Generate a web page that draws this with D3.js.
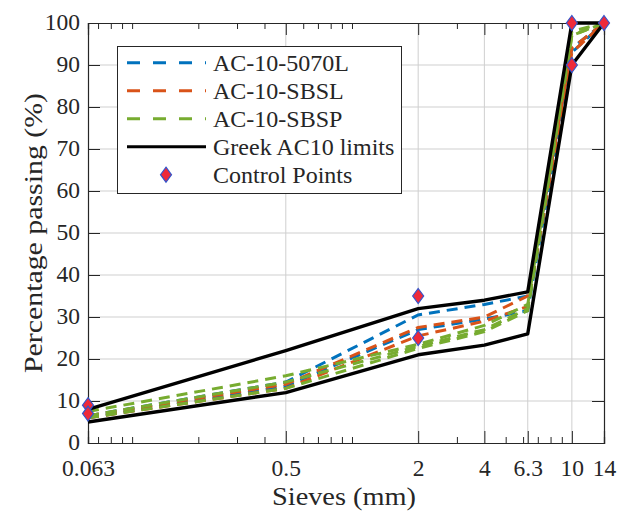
<!DOCTYPE html>
<html>
<head>
<meta charset="utf-8">
<script src="https://cdn.jsdelivr.net/npm/d3@7"></script>
<style>
  body { margin: 0; background: #fff; }
  text { font-family: "Liberation Serif", "DejaVu Serif", serif; fill: #262626; }
</style>
</head>
<body>
<svg id="chart" width="630" height="515"></svg>
<script>
// sieve sizes (mm)
const sieves = [0.063, 0.5, 2, 4, 6.3, 10, 14];
const xTicks = [0.063, 0.5, 2, 4, 6.3, 10, 14];
const xMinor = [0.07, 0.08, 0.09, 0.1, 0.2, 0.3, 0.4, 0.6, 0.7, 0.8, 0.9, 1, 3, 5, 6, 7, 8, 9];
const yTicks = [0, 10, 20, 30, 40, 50, 60, 70, 80, 90, 100];

// gradation curves, % passing at each sieve
const ac5070L = [
  [6.5, 14.5, 30.5, 33, 35, 94, 100],
  [6, 13.5, 27, 29.5, 31.5, 93, 100]
];
const acSBSL = [
  [6, 13, 25.5, 29, 32.5, 93, 100],
  [6.5, 14, 27.5, 30, 35, 94, 100]
];
const acSBSP = [
  [7.5, 16, 23.5, 28, 33, 98, 100],
  [6.5, 14.5, 23, 27, 32, 97, 100],
  [6, 13, 22.5, 26.5, 31.5, 97, 100]
];
const upperLimit = [8, 22, 32, 34, 36, 100, 100];
const lowerLimit = [5, 12, 21, 23.3, 26, 90, 100];

const ctrlSieves = [0.063, 0.063, 2, 2, 10, 10, 14];
const ctrlValues = [9, 7, 35, 25, 100, 90, 100];

const legendNames = ["AC-10-5070L", "AC-10-SBSL", "AC-10-SBSP", "Greek AC10 limits", "Control Points"];

const blue = "#0072BD", orange = "#D95319", green = "#77AC30";

const svg = d3.select("#chart");
const mLeft = 88, mRight = 604, mTop = 23, mBottom = 443;

const x = d3.scaleLog().domain([0.063, 14]).range([mLeft, mRight]);
const y = d3.scaleLinear().domain([0, 100]).range([mBottom, mTop]);

// grid
const grid = svg.append("g").attr("stroke", "#cfcfcf").attr("stroke-width", 1);
grid.selectAll(".gx").data(xTicks.slice(1, -1)).join("line")
  .attr("x1", d => x(d)).attr("x2", d => x(d)).attr("y1", mTop).attr("y2", mBottom);
grid.selectAll(".gy").data(yTicks.slice(1, -1)).join("line")
  .attr("x1", mLeft).attr("x2", mRight).attr("y1", d => y(d)).attr("y2", d => y(d));

// axes with inward ticks (box)
const fmt = d => String(d);
const xAxis = d3.axisBottom(x).tickValues(xTicks).tickFormat(fmt).tickSize(-12).tickPadding(16);
const yAxis = d3.axisLeft(y).tickValues(yTicks).tickFormat(fmt).tickSize(-12).tickPadding(8);

const gx = svg.append("g").attr("transform", `translate(0,${mBottom})`).call(xAxis);
const gy = svg.append("g").attr("transform", `translate(${mLeft},0)`).call(yAxis);
svg.append("g").attr("transform", `translate(0,${mTop})`)
  .call(d3.axisTop(x).tickValues(xTicks).tickFormat("").tickSize(-12));
svg.append("g").attr("transform", `translate(${mRight},0)`)
  .call(d3.axisRight(y).tickValues(yTicks).tickFormat("").tickSize(-12));
svg.append("g").attr("transform", `translate(0,${mBottom})`)
  .call(d3.axisBottom(x).tickValues(xMinor).tickFormat("").tickSize(-6));
svg.append("g").attr("transform", `translate(0,${mTop})`)
  .call(d3.axisTop(x).tickValues(xMinor).tickFormat("").tickSize(-6));

svg.selectAll(".domain").attr("stroke", "#262626").attr("stroke-width", 1.2);
svg.selectAll(".tick line").attr("stroke", "#262626").attr("stroke-width", 1);
svg.selectAll(".tick text").attr("font-size", 23.5).attr("font-family", "Liberation Serif").attr("fill", "#262626");
gx.selectAll(".tick text").attr("dy", "0.71em");
gy.selectAll(".tick text").attr("dy", "0.27em");

// curves
const line = d3.line().x((d, i) => x(sieves[i])).y(d => y(d));
const plotLines = (data, color) => {
  svg.append("g").selectAll("path").data(data).join("path")
    .attr("d", line).attr("fill", "none").attr("stroke", color)
    .attr("stroke-width", 3).attr("stroke-dasharray", "11,7");
};
plotLines(ac5070L, blue);
plotLines(acSBSL, orange);
plotLines(acSBSP, green);

svg.append("g").selectAll("path").data([upperLimit, lowerLimit]).join("path")
  .attr("d", line).attr("fill", "none").attr("stroke", "#000")
  .attr("stroke-width", 3.4).attr("stroke-linejoin", "round");

const diamond = "M0,-7.5L5.5,0L0,7.5L-5.5,0Z";
svg.append("g").selectAll("path").data(ctrlValues).join("path")
  .attr("d", diamond)
  .attr("transform", (d, i) => `translate(${x(ctrlSieves[i])},${y(d)})`)
  .attr("fill", "#ee2a3a").attr("stroke", "#3355cc").attr("stroke-width", 1.2);

// legend
const lg = svg.append("g");
lg.append("rect").attr("x", 117.5).attr("y", 46.5).attr("width", 284).attr("height", 147)
  .attr("fill", "#fff").attr("stroke", "#262626").attr("stroke-width", 1);
const rowY = i => 62.7 + i * 28;
const legColors = [blue, orange, green, "#000"];
legColors.forEach((c, i) => {
  lg.append("line").attr("x1", 127).attr("x2", 206).attr("y1", rowY(i)).attr("y2", rowY(i))
    .attr("stroke", c).attr("stroke-width", 3)
    .attr("stroke-dasharray", i < 3 ? "13,13" : null);
});
lg.append("path").attr("d", diamond).attr("transform", `translate(166,${rowY(4)})`)
  .attr("fill", "#ee2a3a").attr("stroke", "#3355cc").attr("stroke-width", 1.2);
lg.selectAll("text").data(legendNames).join("text")
  .attr("x", 213).attr("y", (d, i) => rowY(i)).attr("dy", "0.33em")
  .attr("font-size", 24).text(d => d);

// axis labels
svg.append("text").attr("x", 344).attr("y", 505)
  .attr("text-anchor", "middle").attr("font-size", 26)
  .attr("textLength", 144).attr("lengthAdjust", "spacingAndGlyphs").text("Sieves (mm)");
svg.append("text").attr("transform", `translate(42,${(mTop + mBottom) / 2}) rotate(-90)`)
  .attr("text-anchor", "middle").attr("font-size", 26)
  .attr("textLength", 280).attr("lengthAdjust", "spacingAndGlyphs").text("Percentage passing (%)");
</script>
</body>
</html>
